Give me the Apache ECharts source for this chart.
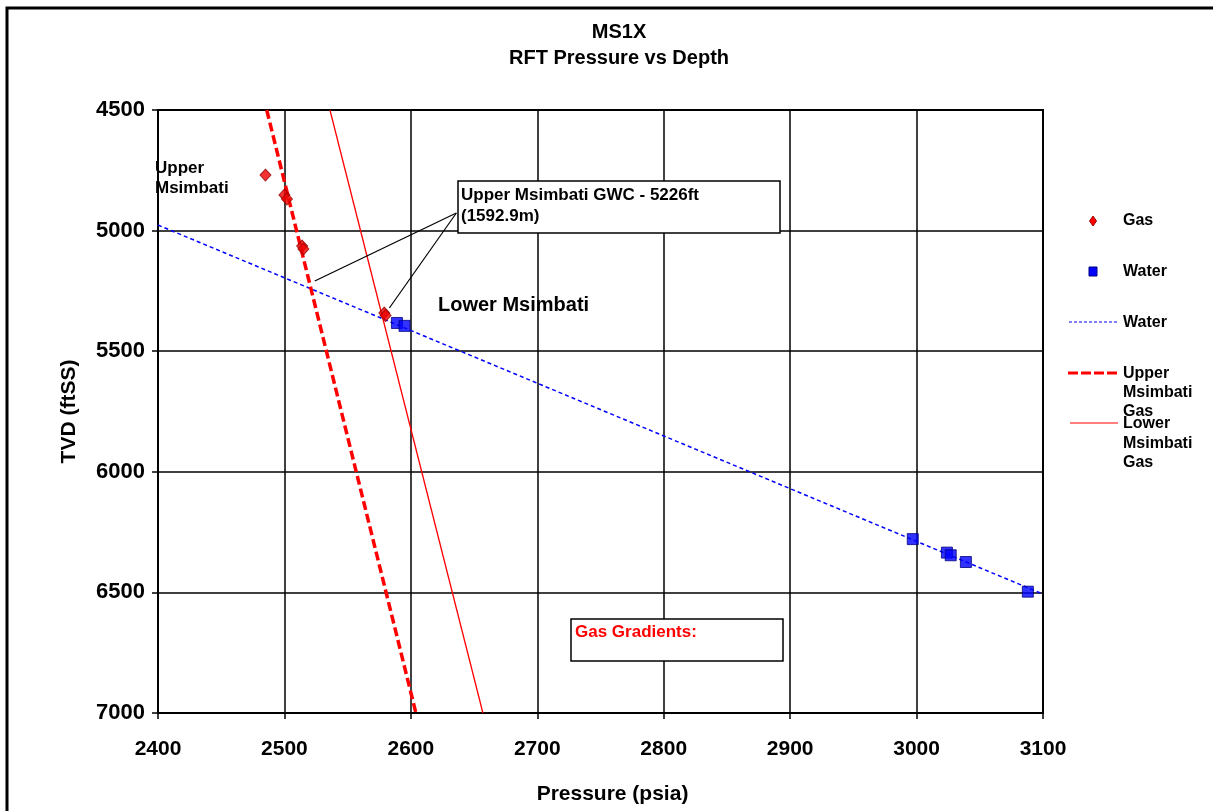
<!DOCTYPE html>
<html>
<head>
<meta charset="utf-8">
<script src="https://cdn.jsdelivr.net/npm/echarts@6/dist/echarts.min.js"></script>
<style>
html,body{margin:0;padding:0;background:#fff;}
#chart{width:1213px;height:811px;}
</style>
</head>
<body>
<div id="chart"></div>
<script>
// ---- data ----
var gasPressure = [2485, 2500, 2502, 2514, 2515, 2579, 2580];
var gasDepth    = [4770, 4852, 4869, 5064, 5076, 5342, 5352];
var waterPressure = [2589, 2595, 2997, 3024, 3027, 3039, 3088];
var waterDepth    = [5383, 5395, 6279, 6335, 6346, 6374, 6497];
var waterLinePressure = [2400, 3100];
var waterLineDepth    = [4977, 6507];
var upperGasPressure = [2486, 2604];
var upperGasDepth    = [4500, 7000];
var lowerGasPressure = [2536, 2657];
var lowerGasDepth    = [4500, 7000];
var xTicks = [2400, 2500, 2600, 2700, 2800, 2900, 3000, 3100];
var yTicks = [4500, 5000, 5500, 6000, 6500, 7000];
// GWC annotation leader lines (data units)
var gwcLabelAnchor = [2636, 4927];
var gwcTargets = [[2524, 5209], [2583, 5321]];

function zip(a, b) { return a.map(function (v, i) { return [v, b[i]]; }); }

var FONT = 'Liberation Sans, Arial, sans-serif';
var chart = echarts.init(document.getElementById('chart'), null, {renderer: 'canvas'});

var option = {
  animation: false,
  backgroundColor: '#fff',
  title: {
    text: 'MS1X\nRFT Pressure vs Depth',
    left: 614, top: 14, textAlign: 'center',
    textStyle: {fontFamily: FONT, fontWeight: 'bold', fontSize: 20, lineHeight: 26, color: '#000'}
  },
  grid: {left: 158, right: 170, top: 110, bottom: 98, show: true, borderColor: '#000', borderWidth: 2},
  xAxis: {
    type: 'value', min: xTicks[0], max: xTicks[xTicks.length - 1], interval: 100,
    name: 'Pressure (psia)', nameLocation: 'middle', nameGap: 71,
    nameTextStyle: {fontFamily: FONT, fontWeight: 'bold', fontSize: 21, color: '#000', padding: [0, 0, 0, 24]},
    axisLine: {show: true, lineStyle: {color: '#000', width: 2}},
    axisTick: {show: true, length: 6, lineStyle: {color: '#000', width: 1.5}},
    axisLabel: {fontFamily: FONT, fontWeight: 'bold', fontSize: 21, color: '#000', margin: 26,
      formatter: function (v) { return String(v); }},
    splitLine: {show: true, lineStyle: {color: '#000', width: 1.5}}
  },
  yAxis: {
    type: 'value', inverse: true, min: yTicks[0], max: yTicks[yTicks.length - 1], interval: 500,
    name: 'TVD (ftSS)', nameLocation: 'middle', nameGap: 78, nameRotate: 90,
    nameTextStyle: {fontFamily: FONT, fontWeight: 'bold', fontSize: 21, color: '#000'},
    axisLine: {show: true, lineStyle: {color: '#000', width: 2}},
    axisTick: {show: true, length: 6, lineStyle: {color: '#000', width: 1.5}},
    axisLabel: {fontFamily: FONT, fontWeight: 'bold', fontSize: 22, color: '#000', margin: 13,
      formatter: function (v) { return String(v); }},
    splitLine: {show: true, lineStyle: {color: '#000', width: 1.5}}
  },
  series: [
    {
      name: 'Water line', type: 'line', data: zip(waterLinePressure, waterLineDepth),
      symbol: 'none', lineStyle: {color: '#0000ff', width: 1.5, type: [4, 3]}, z: 3
    },
    {
      name: 'Upper Msimbati Gas', type: 'line', data: zip(upperGasPressure, upperGasDepth),
      symbol: 'none', lineStyle: {color: '#ff0000', width: 3.5, type: [9, 4]}, z: 3
    },
    {
      name: 'Lower Msimbati Gas', type: 'line', data: zip(lowerGasPressure, lowerGasDepth),
      symbol: 'none', lineStyle: {color: '#ff0000', width: 1.3}, z: 3,
      markLine: {
        silent: true, symbol: 'none', animation: false,
        label: {show: false},
        lineStyle: {color: '#000', width: 1.2, type: 'solid'},
        data: gwcTargets.map(function (t) { return [{coord: gwcLabelAnchor}, {coord: t}]; })
      }
    },
    {
      name: 'Gas', type: 'scatter', data: zip(gasPressure, gasDepth),
      symbol: 'diamond', symbolSize: [11, 12],
      itemStyle: {color: '#ee0000', borderColor: '#990000', borderWidth: 1}, z: 5
    },
    {
      name: 'Water', type: 'scatter', data: zip(waterPressure, waterDepth),
      symbol: 'rect', symbolSize: 11,
      itemStyle: {color: '#0000ff', borderColor: '#000080', borderWidth: 1}, z: 5
    }
  ],
  graphic: [
    {type: 'rect', shape: {x: 7, y: 8, width: 1240, height: 840}, style: {fill: 'none', stroke: '#000', lineWidth: 3}, silent: true, z: 100},
    {type: 'text', x: 155, y: 158, style: {text: 'Upper\nMsimbati', font: 'bold 17px ' + FONT, lineHeight: 20, fill: '#000'}, z: 50},
    {type: 'text', x: 438, y: 305, style: {text: 'Lower Msimbati', font: 'bold 20px ' + FONT, fill: '#000', textVerticalAlign: 'middle'}, z: 50},
    {type: 'rect', shape: {x: 458, y: 181, width: 322, height: 52}, style: {fill: '#fff', stroke: '#000', lineWidth: 1.5}, z: 50},
    {type: 'text', x: 461, y: 185, style: {text: 'Upper Msimbati GWC - 5226ft\n(1592.9m)', font: 'bold 17px ' + FONT, lineHeight: 21, fill: '#000'}, z: 51},
    {type: 'rect', shape: {x: 571, y: 619, width: 212, height: 42}, style: {fill: '#fff', stroke: '#000', lineWidth: 1.5}, z: 50},
    {type: 'text', x: 575, y: 632, style: {text: 'Gas Gradients:', font: 'bold 17px ' + FONT, fill: '#ff0000', textVerticalAlign: 'middle'}, z: 51},
    {type: 'polygon', shape: {points: [[1093, 216], [1096.5, 221], [1093, 226], [1089.5, 221]]}, style: {fill: '#ff0000', stroke: '#990000', lineWidth: 1}, z: 60},
    {type: 'text', x: 1123, y: 221, style: {text: 'Gas', font: 'bold 16px ' + FONT, fill: '#000', textVerticalAlign: 'middle'}, z: 60},
    {type: 'rect', shape: {x: 1089, y: 267, width: 8, height: 9}, style: {fill: '#0000ff', stroke: '#000080', lineWidth: 1}, z: 60},
    {type: 'text', x: 1123, y: 272, style: {text: 'Water', font: 'bold 16px ' + FONT, fill: '#000', textVerticalAlign: 'middle'}, z: 60},
    {type: 'line', shape: {x1: 1069, y1: 322, x2: 1118, y2: 322}, style: {stroke: '#0000ff', lineWidth: 1.2, lineDash: [3, 2]}, z: 60},
    {type: 'text', x: 1123, y: 323, style: {text: 'Water', font: 'bold 16px ' + FONT, fill: '#000', textVerticalAlign: 'middle'}, z: 60},
    {type: 'line', shape: {x1: 1068, y1: 373, x2: 1118, y2: 373}, style: {stroke: '#ff0000', lineWidth: 3, lineDash: [10, 3]}, z: 60},
    {type: 'text', x: 1123, y: 364, style: {text: 'Upper\nMsimbati\nGas', font: 'bold 16px ' + FONT, lineHeight: 19, fill: '#000'}, z: 60},
    {type: 'line', shape: {x1: 1070, y1: 423, x2: 1118, y2: 423}, style: {stroke: '#ff0000', lineWidth: 1.2}, z: 60},
    {type: 'text', x: 1123, y: 414, style: {text: 'Lower\nMsimbati\nGas', font: 'bold 16px ' + FONT, lineHeight: 19.5, fill: '#000'}, z: 60}
  ]
};
chart.setOption(option);
</script>
</body>
</html>
